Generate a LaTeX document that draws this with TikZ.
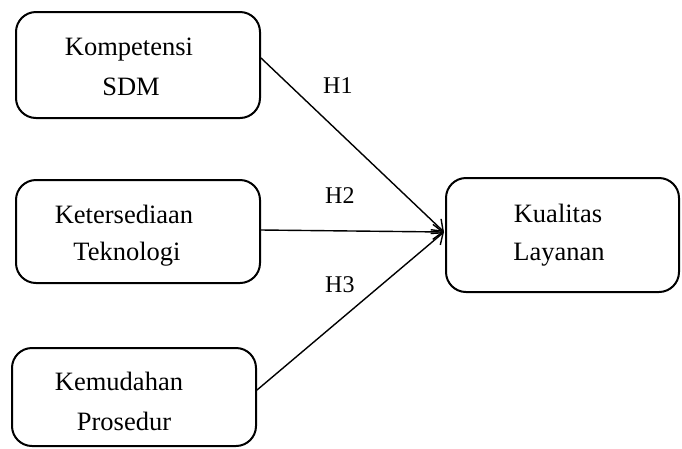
\documentclass[tikz,border=0pt]{standalone}
\usepackage{fontspec}
\setmainfont{Liberation Serif}
\usetikzlibrary{arrows.meta}
\begin{document}
\begin{tikzpicture}[x=1pt,y=-1pt,
 box/.style={draw, line width=2pt, rounded corners=20pt, inner sep=0pt},
 lbl/.style={anchor=base, inner sep=0pt, font=\fontsize{26.5}{30}\selectfont},
 hyp/.style={anchor=base west, inner sep=0pt, font=\fontsize{24}{28}\selectfont},
 arr/.style={line width=1.4pt, -{Straight Barb[length=10pt,width=15pt,line width=1.4pt]}}]
\useasboundingbox (0,0) rectangle (682,448);
\node[box, minimum width=244pt, minimum height=106pt] (b1) at (138,65) {};
\node[box, minimum width=244pt, minimum height=103pt] (b2) at (138,231.5) {};
\node[box, minimum width=244pt, minimum height=98pt] (b3) at (134,397) {};
\node[box, minimum width=233pt, minimum height=114pt] (b4) at (562.5,235) {};
\node[lbl] (t1a) at (129,55) {Kompetensi};
\node[lbl] (t1b) at (131,95) {SDM};
\node[lbl] (t2a) at (124,223) {Ketersediaan};
\node[lbl] (t2b) at (127,260) {Teknologi};
\node[lbl] (t3a) at (119,390) {Kemudahan};
\node[lbl] (t3b) at (124,430) {Prosedur};
\node[lbl] (t4a) at (558,222) {Kualitas};
\node[lbl] (t4b) at (559,260) {Layanan};
\node[hyp] (h1) at (323,93) {H1};
\node[hyp] (h2) at (325,203) {H2};
\node[hyp] (h3) at (325,292) {H3};
\coordinate (tip) at (444,232);
\draw[arr] ([yshift=7pt]b1.east) -- (tip);
\draw[arr] ([yshift=1.5pt]b2.east) -- (tip);
\draw[arr] ([yshift=7pt]b3.east) -- (tip);
\end{tikzpicture}
\end{document}
